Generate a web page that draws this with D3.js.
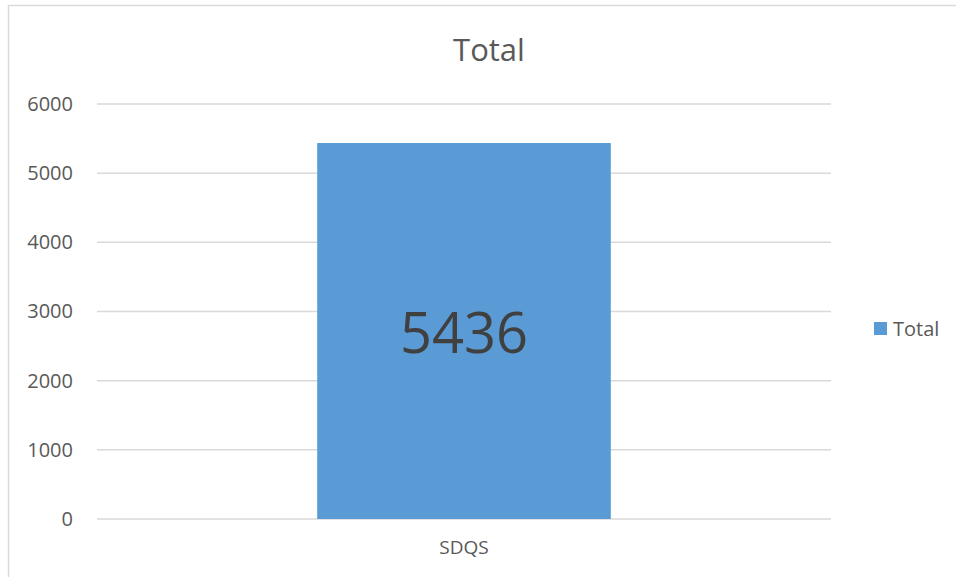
<!DOCTYPE html>
<html>
<head>
<meta charset="utf-8">
<script src="https://cdn.jsdelivr.net/npm/d3@7"></script>
<style>
html,body{margin:0;padding:0;background:#fff;}
svg{display:block;}
text{font-family:"Open Sans",sans-serif;}
</style>
</head>
<body>
<svg id="chart" width="956" height="577"></svg>
<script>
const categories = ["SDQS"];
const values = [5436];
const seriesName = "Total";
const chartTitle = "Total";
const yTicks = [0, 1000, 2000, 3000, 4000, 5000, 6000];

const svg = d3.select("#chart");
const plot = {left: 97, right: 831, top: 104, bottom: 519};

// outer border
svg.append("rect").attr("x", 8.5).attr("y", 5.5).attr("width", 960).attr("height", 600)
  .attr("fill", "#fff").attr("stroke", "#d9d9d9").attr("stroke-width", 1.5);

const x = d3.scaleBand().domain(categories).range([plot.left, plot.right]).paddingInner(0.6).paddingOuter(0.3);
const y = d3.scaleLinear().domain([0, 6000]).range([plot.bottom, plot.top]);

// gridlines
svg.append("g").selectAll("line").data(yTicks).join("line")
  .attr("x1", plot.left).attr("x2", plot.right)
  .attr("y1", d => y(d)).attr("y2", d => y(d))
  .attr("stroke", "#d9d9d9").attr("stroke-width", 1.5);

// y axis labels
const yAxis = d3.axisLeft(y).tickValues(yTicks).tickFormat(d3.format("d")).tickSize(0).tickPadding(24);
const gy = svg.append("g").attr("transform", `translate(${plot.left},0)`).call(yAxis);
gy.select(".domain").remove();
gy.selectAll("text").attr("fill", "#595959").style("font-size", "20px").style("font-family", '"Open Sans",sans-serif');

// x axis labels
const xAxis = d3.axisBottom(x).tickSize(0).tickPadding(22);
const gx = svg.append("g").attr("transform", `translate(0,${plot.bottom})`).call(xAxis);
gx.select(".domain").remove();
gx.selectAll("text").attr("fill", "#595959").style("font-size", "19px").style("font-family", '"Open Sans",sans-serif');

// bars
svg.append("g").selectAll("rect").data(values).join("rect")
  .attr("x", (d, i) => x(categories[i]))
  .attr("width", x.bandwidth())
  .attr("y", d => y(d))
  .attr("height", d => y(0) - y(d))
  .attr("fill", "#5b9bd5");

// data labels
svg.append("g").selectAll("text").data(values).join("text")
  .attr("x", (d, i) => x(categories[i]) + x.bandwidth() / 2)
  .attr("y", d => (y(d) + y(0)) / 2)
  .attr("text-anchor", "middle").attr("dominant-baseline", "central")
  .attr("fill", "#404040").style("font-size", "56px")
  .text(d => d);

// title
svg.append("text").attr("x", 489).attr("y", 61).attr("text-anchor", "middle")
  .attr("fill", "#595959").style("font-size", "31px").text(chartTitle);

// legend
const lg = svg.append("g").attr("transform", "translate(874,322)");
lg.append("rect").attr("width", 13).attr("height", 13).attr("fill", "#5b9bd5");
lg.append("text").attr("x", 19).attr("y", 6.5).attr("dominant-baseline", "central")
  .attr("fill", "#595959").style("font-size", "20px").text(seriesName);
</script>
</body>
</html>
